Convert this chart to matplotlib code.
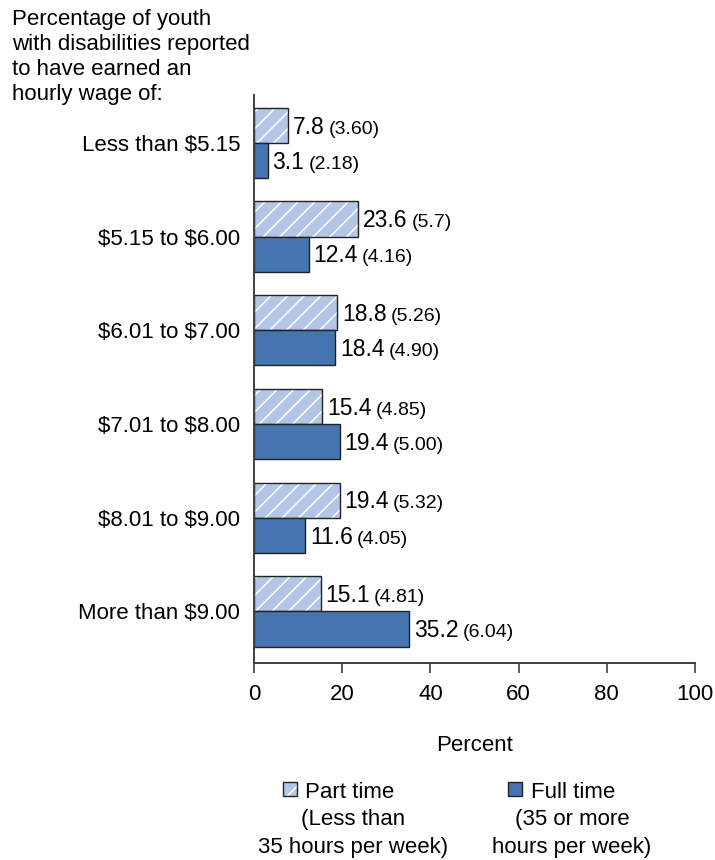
import matplotlib.pyplot as plt
from matplotlib.patches import Rectangle
import numpy as np

# Data
categories = ['Less than \\$5.15', '\\$5.15 to \\$6.00', '\\$6.01 to \\$7.00',
              '\\$7.01 to \\$8.00', '\\$8.01 to \\$9.00', 'More than \\$9.00']
part_time = [7.8, 23.6, 18.8, 15.4, 19.4, 15.1]
part_se = ['3.60', '5.7', '5.26', '4.85', '5.32', '4.81']
full_time = [3.1, 12.4, 18.4, 19.4, 11.6, 35.2]
full_se = ['2.18', '4.16', '4.90', '5.00', '4.05', '6.04']

light = '#b4c6e7'
dark = '#4575b0'
edge = '#222222'
axis_col = '#404040'

plt.rcParams['font.family'] = ['Liberation Sans', 'DejaVu Sans']
plt.rcParams['hatch.linewidth'] = 1.1

W, H = 715, 860
fig = plt.figure(figsize=(W / 100, H / 100), dpi=100)
ax = fig.add_axes([254 / W, 1 - 663 / H, (695 - 254) / W, (663 - 95) / H])

y = np.arange(len(categories))
h = 0.375

# part time: fill + white hatch, then dark outline
ax.barh(y - h / 2, part_time, height=h, color=light, edgecolor='white',
        hatch='//', linewidth=0)
ax.barh(y - h / 2, part_time, height=h, fill=False, edgecolor=edge, linewidth=1)
ax.barh(y + h / 2, full_time, height=h, color=dark, edgecolor=edge, linewidth=1)

ax.set_xlim(0, 100)
ax.set_ylim(5.55, -0.51)
ax.set_yticks(y)
ax.set_yticklabels(categories, fontsize=16)
ax.tick_params(axis='y', length=0, pad=10)
ax.set_xticks([0, 20, 40, 60, 80, 100])
ax.tick_params(axis='x', labelsize=16, length=7, width=1.2, color=axis_col, pad=8)
for s in ['top', 'right']:
    ax.spines[s].set_visible(False)
for s in ['left', 'bottom']:
    ax.spines[s].set_color(axis_col)
    ax.spines[s].set_linewidth(1.4)
ax.set_xlabel('Percent', fontsize=16, labelpad=22)

# value labels: value followed by smaller standard error
fig.canvas.draw()
r = fig.canvas.get_renderer()
for vals, ses, off in [(part_time, part_se, -h / 2), (full_time, full_se, h / 2)]:
    for i, (v, se) in enumerate(zip(vals, ses)):
        t = ax.annotate(f'{v}', (v, i + off), xytext=(3.5, -6), textcoords='offset points',
                        va='baseline', ha='left', fontsize=16.5)
        bb = t.get_window_extent(r)
        x_end = ax.transData.inverted().transform((bb.x1, bb.y0))[0]
        ax.annotate(f'({se})', (x_end, i + off), xytext=(3, -6),
                    textcoords='offset points', va='baseline', ha='left', fontsize=14)

# heading
fig.text(12 / W, 1 - 9 / H, 'Percentage of youth\nwith disabilities reported\nto have earned an\nhourly wage of:',
         ha='left', va='top', fontsize=16, linespacing=1.25)

# legend drawn by hand
for x0, fc, hatch in [(283, light, '//'), (508, dark, None)]:
    fig.patches.append(Rectangle((x0 / W, 1 - 796 / H), 14 / W, 14 / H, transform=fig.transFigure,
                                 facecolor=fc, edgecolor='white' if hatch else edge,
                                 hatch=hatch, linewidth=0 if hatch else 1))
    if hatch:
        fig.patches.append(Rectangle((x0 / W, 1 - 796 / H), 14 / W, 14 / H,
                                     transform=fig.transFigure, fill=False,
                                     edgecolor=edge, linewidth=1))
fig.text(305 / W, 1 - 793 / H, 'Part time', ha='left', va='center', fontsize=16)
fig.text(353 / W, 1 - 820 / H, '(Less than', ha='center', va='center', fontsize=16)
fig.text(353 / W, 1 - 847 / H, '35 hours per week)', ha='center', va='center', fontsize=16)
fig.text(531 / W, 1 - 793 / H, 'Full time', ha='left', va='center', fontsize=16)
fig.text(572 / W, 1 - 820 / H, '(35 or more', ha='center', va='center', fontsize=16)
fig.text(572 / W, 1 - 847 / H, 'hours per week)', ha='center', va='center', fontsize=16)

fig.savefig('out.png', dpi=100)
